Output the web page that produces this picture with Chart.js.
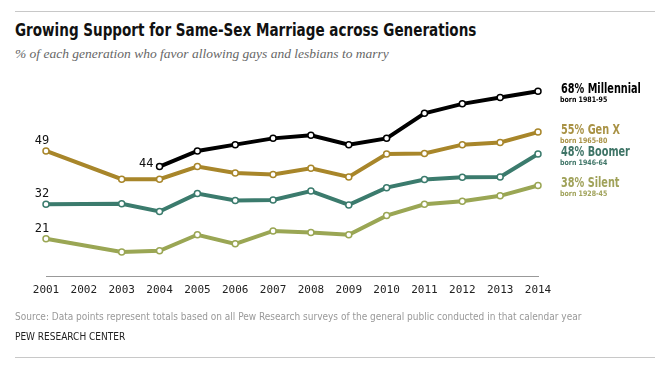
<!DOCTYPE html>
<html lang="en">
<head>
<meta charset="UTF-8">
<title>Growing Support for Same-Sex Marriage across Generations</title>
<script src="https://cdn.jsdelivr.net/npm/chart.js"></script>
<style>
  body { margin: 0; width: 662px; height: 374px; background: #fff; position: relative; overflow: hidden; }
  #chart { position: absolute; left: 0; top: 0; }
  .rule { position: absolute; left: 15px; width: 640px; border-top: 1px solid #c8c8c8; }
  .txt { position: absolute; left: 15px; white-space: nowrap; }
  #title { top: 20px; font: bold 17.5px "DejaVu Sans Condensed", sans-serif; color: #111;
           transform: scaleX(0.86); transform-origin: 0 0; }
  #subtitle { top: 46px; font: italic 13.5px "Liberation Serif", serif; color: #666; }
  #source { top: 311px; font: 10px "DejaVu Sans Condensed", sans-serif; color: #999; }
  #org { top: 331px; font: 10px "DejaVu Sans Condensed", sans-serif; color: #222; }
</style>
</head>
<body>
<div class="rule" style="top:11px"></div>
<div class="txt" id="title">Growing Support for Same-Sex Marriage across Generations</div>
<div class="txt" id="subtitle">% of each generation who favor allowing gays and lesbians to marry</div>
<canvas id="chart" width="662" height="374"></canvas>
<div class="txt" id="source">Source: Data points represent totals based on all Pew Research surveys of the general public conducted in that calendar year</div>
<div class="txt" id="org">PEW RESEARCH CENTER</div>
<div class="rule" style="top:357px"></div>

<script>
  // years on the x axis (no survey in 2002)
  const years = ['2001','2002','2003','2004','2005','2006','2007','2008','2009','2010','2011','2012','2013','2014'];

  const millennial = [null, null, null, 44, 49, 51, 53, 54, 51, 53, 61, 64, 66, 68];
  const genX       = [49, null, 40, 40, 44, 42, 41.5, 43.5, 40.7, 48, 48.2, 51, 51.7, 55];
  const boomer     = [32, null, 32.2, 29.7, 35.4, 33.2, 33.4, 36.2, 31.8, 37.3, 39.9, 40.6, 40.7, 48];
  const silent     = [21, null, 16.8, 17.2, 22.3, 19.4, 23.5, 23, 22.3, 28.4, 32, 33, 34.7, 38];

  const seriesNames  = ['68% Millennial', '55% Gen X', '48% Boomer', '38% Silent'];
  const bornLabels   = ['born 1981-95', 'born 1965-80', 'born 1946-64', 'born 1928-45'];
  const lineColors   = ['#000000', '#a8862a', '#3b7b6d', '#9aa654'];
  const labelColors  = ['#000000', '#a99245', '#3e7466', '#a0a25a'];

  const allSeries = [millennial, genX, boomer, silent];

  const datasets = allSeries.map((data, i) => ({
    label: seriesNames[i],
    data: data,
    borderColor: lineColors[i],
    borderWidth: 4,
    pointRadius: 3,
    pointBorderWidth: 1.5,
    pointBackgroundColor: '#ffffff',
    pointBorderColor: lineColors[i],
    spanGaps: true,
    tension: 0
  }));

  // squeeze text a little, the original uses a condensed face
  function narrowText(c, text, x, y, squeeze) {
    c.fillText(text, x, y, c.measureText(text).width * squeeze);
  }

  // first value next to the first point, names at the right end
  const labelPlugin = {
    id: 'labels',
    afterDatasetsDraw(chart) {
      const c = chart.ctx;
      c.save();
      c.textBaseline = 'middle';
      chart.data.datasets.forEach((ds, i) => {
        const meta = chart.getDatasetMeta(i);
        const first = ds.data.findIndex(v => v !== null);
        const p0 = meta.data[first];
        c.font = '12px "DejaVu Sans Mono", monospace';
        c.fillStyle = '#111';
        if (first === 0) {
          c.textAlign = 'center';
          c.fillText(String(ds.data[first]), p0.x - 4, p0.y - 10);
        } else {
          c.textAlign = 'right';
          c.fillText(String(ds.data[first]), p0.x - 6, p0.y - 3);
        }
        const pe = meta.data[ds.data.length - 1];
        c.textAlign = 'left';
        c.fillStyle = labelColors[i];
        c.font = 'bold 13.5px "DejaVu Sans Condensed", sans-serif';
        narrowText(c, seriesNames[i], 561, pe.y - 2, 0.8);
        c.font = 'bold 7.5px "DejaVu Sans Condensed", sans-serif';
        narrowText(c, bornLabels[i], 560, pe.y + 9, 0.93);
      });
      c.restore();
    }
  };

  new Chart(document.getElementById('chart'), {
    type: 'line',
    data: { labels: years, datasets: datasets },
    options: {
      responsive: false,
      animation: false,
      layout: { padding: { left: 46, right: 124, top: 85, bottom: 73.5 } },
      plugins: { legend: { display: false }, tooltip: { enabled: false } },
      scales: {
        x: {
          offset: false,
          grid: { display: false, drawTicks: false },
          border: { display: true, color: '#999', width: 1 },
          ticks: { color: '#222', padding: 7, maxRotation: 0, autoSkip: false,
                   font: { family: '"DejaVu Sans Mono", monospace', size: 11 } },
          afterFit: s => { s.height = 24; }
        },
        y: {
          display: false,
          min: 9,
          max: 70
        }
      }
    },
    plugins: [labelPlugin]
  });
</script>
</body>
</html>
